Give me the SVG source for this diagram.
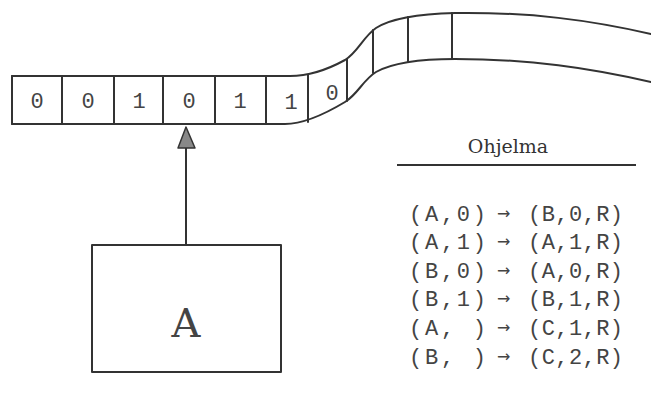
<svg xmlns="http://www.w3.org/2000/svg" width="651" height="393" viewBox="0 0 651 393">
<style>
.ln{fill:none;stroke:#333;stroke-width:2;stroke-linecap:round;stroke-linejoin:round}
.dig{font-family:"Liberation Mono",monospace;font-size:22px;fill:#444;text-anchor:middle}
.row{font-family:"Liberation Mono",monospace;font-size:22px;fill:#444}
.arr{font-family:"DejaVu Sans",sans-serif;font-size:16px;fill:#444}
</style>
<rect width="651" height="393" fill="#fff"/>
<g id="tape">
<path class="ln" d="M12 76 H290 C305 76 325 71 345 60 C358 52 363 37 376 28 C390 19 415 14 455 13 C530 12 590 20 651 34"/>
<path class="ln" d="M12 124 H285 C300 124 320 117 345 102 C358 94 363 80 376 72 C392 63 420 59 455 59 C530 59 590 68 651 82"/>
<path class="ln" d="M12 76 V124 M62 76 V124 M114 76 V124 M163 76 V124 M215 76 V124 M266 76 V124 M308 75 V122 M347 59 V101 M373 30 V73 M408 17 V62 M452 13 V59"/>
<text class="dig" x="37" y="108">0</text>
<text class="dig" x="88" y="108">0</text>
<text class="dig" x="139" y="108">1</text>
<text class="dig" x="189" y="108">0</text>
<text class="dig" x="240" y="108">1</text>
<text class="dig" x="291" y="109">1</text>
<text class="dig" x="332" y="100">0</text>
</g>
<g id="head">
<rect class="ln" x="92" y="245" width="189" height="127"/>
<text x="186" y="337" text-anchor="middle" font-family="DejaVu Serif,serif" font-size="40" fill="#444">A</text>
</g>
<g id="connectors">
<line class="ln" x1="186" y1="245" x2="186" y2="148"/>
<polygon points="186,127 178,148 195,148" fill="#888" stroke="#333" stroke-width="1.5" stroke-linejoin="round"/>
</g>
<g id="program">
<text x="508" y="153" text-anchor="middle" font-family="DejaVu Serif,serif" font-size="19" fill="#333">Ohjelma</text>
<line x1="397" y1="165" x2="636" y2="165" stroke="#333" stroke-width="2"/>
<g class="row">
<text x="409" y="221" textLength="77" lengthAdjust="spacing">(A,0)</text>
<text x="528" y="221" textLength="95" lengthAdjust="spacing">(B,0,R)</text>
<text x="409" y="249" textLength="77" lengthAdjust="spacing">(A,1)</text>
<text x="528" y="249" textLength="95" lengthAdjust="spacing">(A,1,R)</text>
<text x="409" y="278" textLength="77" lengthAdjust="spacing">(B,0)</text>
<text x="528" y="278" textLength="95" lengthAdjust="spacing">(A,0,R)</text>
<text x="409" y="306" textLength="77" lengthAdjust="spacing">(B,1)</text>
<text x="528" y="306" textLength="95" lengthAdjust="spacing">(B,1,R)</text>
<text x="409" y="335" textLength="77" lengthAdjust="spacing" xml:space="preserve">(A, )</text>
<text x="528" y="335" textLength="95" lengthAdjust="spacing">(C,1,R)</text>
<text x="409" y="364" textLength="77" lengthAdjust="spacing" xml:space="preserve">(B, )</text>
<text x="528" y="364" textLength="95" lengthAdjust="spacing">(C,2,R)</text>
</g>
<g class="arr">
<text x="497" y="219">→</text>
<text x="497" y="247">→</text>
<text x="497" y="276">→</text>
<text x="497" y="304">→</text>
<text x="497" y="333">→</text>
<text x="497" y="362">→</text>
</g>
</g>
</svg>
